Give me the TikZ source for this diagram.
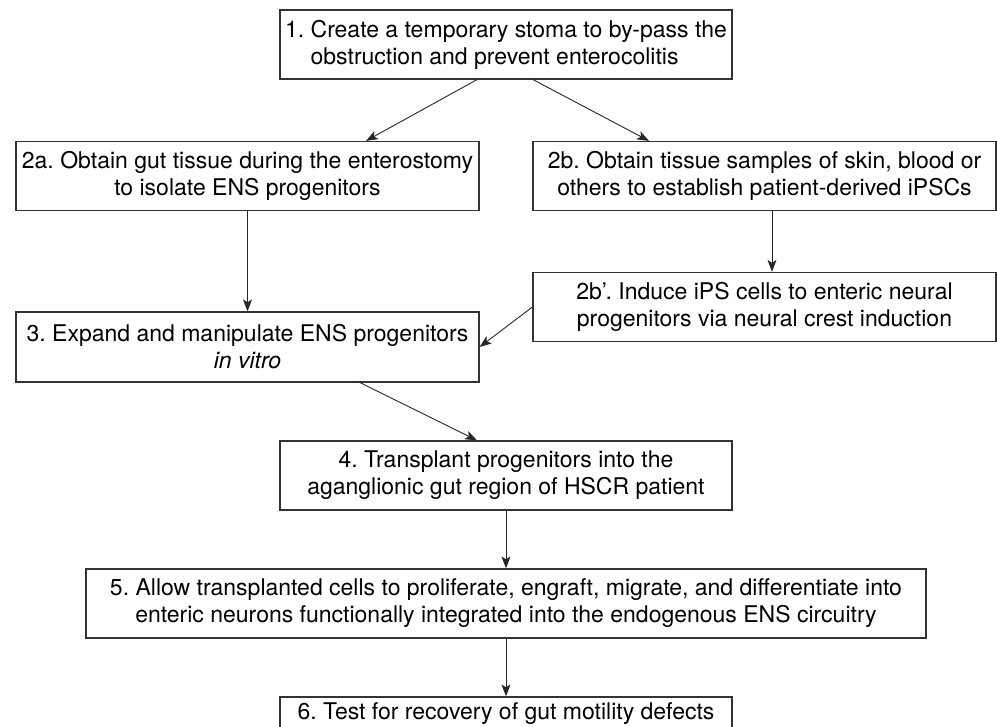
\documentclass[tikz,border=0pt]{standalone}
\usepackage{fontspec}
\setmainfont{TeX Gyre Heros}
\usetikzlibrary{arrows.meta,calc,positioning}

\begin{document}
\begin{tikzpicture}[
    x=1pt, y=-1pt,
    font=\fontsize{23}{27}\selectfont,
    stepbox/.style={rectangle, draw=black!80, line width=1.2pt, align=center, inner sep=0pt, minimum height=69pt},
    narrow/.style={stepbox, minimum width=452pt},
    wide/.style={stepbox, minimum width=463pt},
    arr/.style={-{Stealth[length=12pt,width=9pt,inset=3pt]}, line width=0.9pt, draw=black!85}
]
\clip (0,0) rectangle (997,727);

% Steps
\node[narrow, align=left] (s1) at (506,44.5) {1.\ Create a temporary stoma to by-pass the\\\hphantom{1.\ }obstruction and prevent enterocolitis};
\node[wide] (s2a) at (247.5,176) {2a.\ Obtain gut tissue during the enterostomy\\to isolate ENS progenitors};
\node[wide] (s2b) at (764.5,176) {2b.\ Obtain tissue samples of skin, blood or\\others to establish patient-derived iPSCs};
\node[wide] (s2bp) at (764.5,307) {2b’.\ Induce iPS cells to enteric neural\\progenitors via neural crest induction};
\node[wide, minimum height=70pt] (s3) at (247.5,347) {3.\ Expand and manipulate ENS progenitors\\\textit{in vitro}};
\node[narrow] (s4) at (506,475.5) {4.\ Transplant progenitors into the\\aganglionic gut region of HSCR patient};
\node[stepbox, minimum width=840pt] (s5) at (506,603.5) {5.\ Allow transplanted cells to proliferate, engraft, migrate, and differentiate into\\enteric neurons functionally integrated into the endogenous ENS circuitry};
\node[narrow, minimum height=34pt] (s6) at (506,714) {6.\ Test for recovery of gut motility defects};

% Arrows
\draw[arr] ($(s1.south)+(-29,0)$) -- ($(s2a.north)+(118.5,0)$);
\draw[arr] ($(s1.south)+(27,0)$) -- ($(s2b.north)+(-115.5,0)$);
\draw[arr] (s2a) -- (s3);
\draw[arr] ($(s2b.south)+(7.5,0)$) -- ($(s2bp.north)+(7.5,0)$);
\draw[arr] (s2bp.west) -- (s3.east);
\draw[arr] ($(s3.south)+(112.5,0)$) -- ($(s4.north)+(-29,0)$);
\draw[arr] (s4) -- (s5);
\draw[arr] (s5) -- (s6);

\end{tikzpicture}
\end{document}
